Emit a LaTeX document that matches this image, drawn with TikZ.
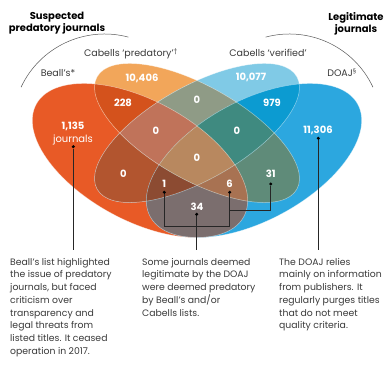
\documentclass[tikz,border=0pt]{standalone}
\usepackage{fontspec}
\setmainfont{Poppins}
\newfontfamily\markfont{Lato}
\usetikzlibrary{positioning}

\definecolor{beallc}{HTML}{E85A26}
\definecolor{predc}{HTML}{F2A65A}
\definecolor{verifc}{HTML}{80CAE6}
\definecolor{doajc}{HTML}{2CA7DF}
\definecolor{cAB}{HTML}{D4521C}
\definecolor{cAC}{HTML}{B2552F}
\definecolor{cAD}{HTML}{7B6E6E}
\definecolor{cBC}{HTML}{8F9B86}
\definecolor{cBD}{HTML}{5F8B79}
\definecolor{cCD}{HTML}{0C9BD1}
\definecolor{cABC}{HTML}{C0735A}
\definecolor{cABD}{HTML}{A87252}
\definecolor{cACD}{HTML}{8C4B32}
\definecolor{cBCD}{HTML}{3F8A80}
\definecolor{cABCD}{HTML}{B8885F}
\definecolor{inkgray}{HTML}{3A3A3A}

\newcommand{\beallsE}{[rotate around={-28.4:(140,206.5)}] (140,206.5) ellipse [x radius=118, y radius=60]}
\newcommand{\predE}{[rotate around={-29.4:(197,234)}] (197,234) ellipse [x radius=114.6, y radius=46.9]}
\newcommand{\verifE}{[rotate around={29.4:(197,234)}] (197,234) ellipse [x radius=114.6, y radius=46.9]}
\newcommand{\doajE}{[rotate around={28.4:(254,206.5)}] (254,206.5) ellipse [x radius=118, y radius=60]}

\begin{document}
\begin{tikzpicture}[x=1pt,y=1pt,
    num/.style={anchor=base,text=white,font=\bfseries\fontsize{10}{12}\selectfont,inner sep=0pt},
    setname/.style={anchor=base,text=inkgray,font=\fontsize{9.5}{11}\selectfont,inner sep=0pt},
    head/.style={anchor=north,align=center,font=\bfseries\fontsize{10}{12.3}\selectfont,inner sep=0pt},
    note/.style={anchor=north west,align=left,text=inkgray,font=\fontsize{9.3}{12.7}\selectfont,inner sep=0pt},
    dot/.style={circle,fill=black,inner sep=0pt,minimum size=3.4pt},
    leader/.style={draw=black!85,line width=0.6pt},
    rim/.style={draw=white,draw opacity=0.5,line width=0.5pt},
    arcline/.style={draw=black!65,line width=0.5pt}]

  \fill[white] (0,0) rectangle (388,367);

  \fill[beallc] \beallsE;
  \fill[predc] \predE;
  \fill[verifc] \verifE;
  \fill[doajc] \doajE;

  \begin{scope}\clip \beallsE; \fill[cAB] \predE; \end{scope}
  \begin{scope}\clip \beallsE; \fill[cAC] \verifE; \end{scope}
  \begin{scope}\clip \beallsE; \fill[cAD] \doajE; \end{scope}
  \begin{scope}\clip \predE; \fill[cBC] \verifE; \end{scope}
  \begin{scope}\clip \predE; \fill[cBD] \doajE; \end{scope}
  \begin{scope}\clip \verifE; \fill[cCD] \doajE; \end{scope}
  \begin{scope}\clip \beallsE; \clip \predE; \fill[cABC] \verifE; \end{scope}
  \begin{scope}\clip \beallsE; \clip \predE; \fill[cABD] \doajE; \end{scope}
  \begin{scope}\clip \beallsE; \clip \verifE; \fill[cACD] \doajE; \end{scope}
  \begin{scope}\clip \predE; \clip \verifE; \fill[cBCD] \doajE; \end{scope}
  \begin{scope}\clip \beallsE; \clip \predE; \clip \verifE; \fill[cABCD] \doajE; \end{scope}

  \draw[rim] \beallsE;
  \draw[rim] \predE;
  \draw[rim] \verifE;
  \draw[rim] \doajE;

  \draw[arcline] (104.6,240.8) ++(155:92.2) arc[start angle=155, end angle=75, radius=92.2];
  \draw[arcline] (289.4,240.8) ++(25:92.2) arc[start angle=25, end angle=105, radius=92.2];

  \node[head] (hPred) at (57,355) {Suspected\\predatory journals};
  \node[head] (hLegit) at (356,355) {Legitimate\\journals};

  \node[setname] (sBealls) at (58,290) {Beall’s*};
  \node[setname] (sPred) at (131,310) {Cabells ‘predatory’\textsuperscript{\markfont †}};
  \node[setname] (sVerif) at (268,310) {Cabells ‘verified’};
  \node[setname] (sDoaj) at (342,290) {DOAJ\textsuperscript{\markfont §}};

  \node[num] (nA) at (73,237) {1,135};
  \node[num,font=\fontsize{10}{12}\selectfont,below=3pt of nA] (nJrn) {journals};
  \node[num] (nB) at (142,285.5) {10,406};
  \node[num] (nC) at (251,286.5) {10,077};
  \node[num] (nD) at (318,233.5) {11,306};
  \node[num] (nAB) at (123,260.5) {228};
  \node[num] (nBC) at (197,263.5) {0};
  \node[num] (nCD) at (272,260.5) {979};
  \node[num] (nABC) at (156,232.5) {0};
  \node[num] (nBCD) at (237,232.5) {0};
  \node[num] (nABCD) at (197,205.5) {0};
  \node[num] (nAC) at (123.5,189.5) {0};
  \node[num] (nACD) at (164.3,179.5) {1};
  \node[num] (nABD) at (229.5,179.5) {6};
  \node[num] (nBD) at (270.7,189.5) {31};
  \node[num] (nAD) at (197,156.5) {34};

  \node[dot] (dA) at (73.3,220.3) {};
  \node[dot] (dD) at (318.3,228.7) {};
  \node[dot] (dACD) at (164.3,174.7) {};
  \node[dot] (dABD) at (229.7,174.7) {};
  \node[dot] (dBD) at (270.7,183) {};
  \node[dot] (dAD) at (196.7,152.7) {};

  \coordinate (kACD) at (229.7,140.3);
  \coordinate (kBD) at (229.7,157);
  \coordinate (eA) at (73.3,117);
  \coordinate (eAD) at (196.7,117);
  \coordinate (eD) at (318.3,117);

  \path[leader]
    (dA) edge (eA)
    (dD) edge (eD)
    (dAD) edge (eAD)
    ;
  \draw[leader] (dACD) |- (kACD) -- (dABD);
  \draw[leader] (kBD) -| (dBD);

  \node[note] (tBealls) at (10,109) {Beall’s list highlighted\\the issue of predatory\\journals, but faced\\criticism over\\transparency and\\legal threats from\\listed titles. It ceased\\operation in 2017.};
  \node[note] (tMixed) at (142,109) {Some journals deemed\\legitimate by the DOAJ\\were deemed predatory\\by Beall’s and/or\\Cabells lists.};
  \node[note] (tDoaj) at (279,109) {The DOAJ relies\\mainly on information\\from publishers. It\\regularly purges titles\\that do not meet\\quality criteria.};
\end{tikzpicture}
\end{document}
